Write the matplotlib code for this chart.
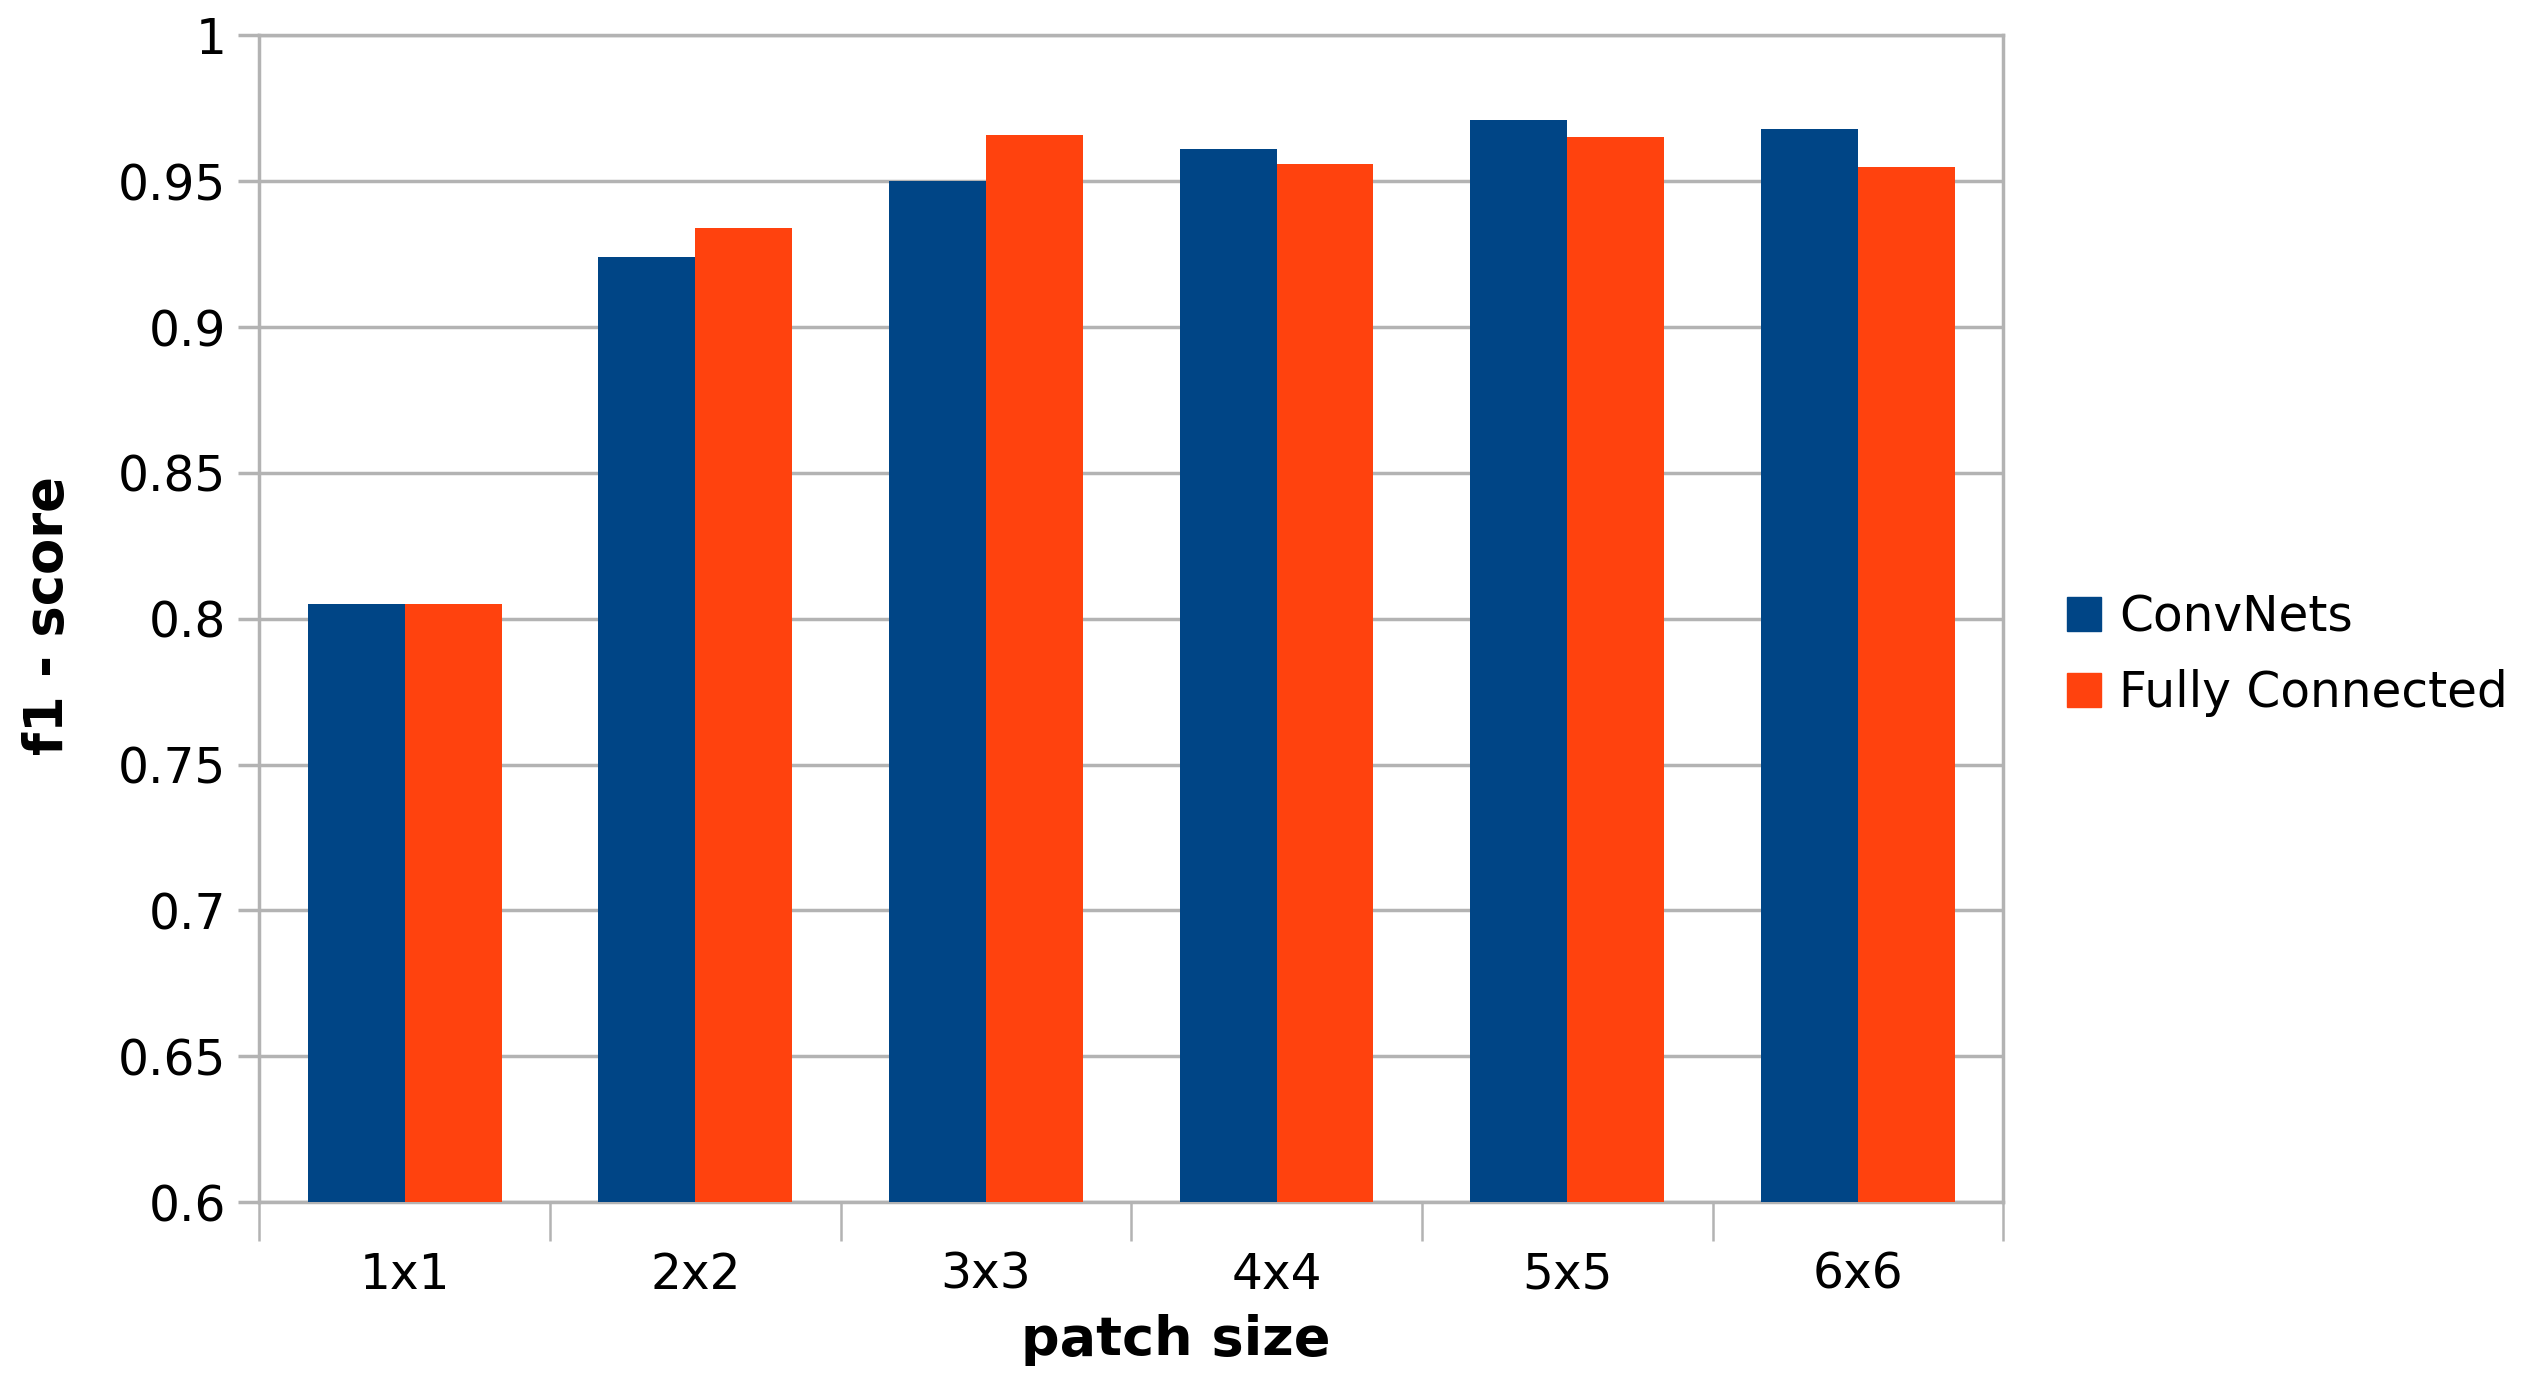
import matplotlib.pyplot as plt
from matplotlib.patches import Patch
import numpy as np

# f1-scores
patch_sizes = ['1x1', '2x2', '3x3', '4x4', '5x5', '6x6']
convnets = [0.805, 0.924, 0.950, 0.961, 0.971, 0.968]
fully_connected = [0.805, 0.934, 0.966, 0.956, 0.965, 0.955]

blue = '#004586'
orange = '#ff420e'
grid_gray = '#b3b3b3'

fig = plt.figure(figsize=(25.26, 13.89), dpi=100)
ax = fig.add_axes([0.1027, 0.1346, 0.6903, 0.8399])

x = np.arange(len(patch_sizes))
w = 1 / 3
ax.bar(x - w / 2, convnets, w, color=blue, zorder=3)
ax.bar(x + w / 2, fully_connected, w, color=orange, zorder=3)

ax.set_xlim(-0.5, len(patch_sizes) - 0.5)
ax.set_ylim(0.6, 1.0)

# y axis
yt = np.arange(0.6, 1.0001, 0.05)
ax.set_yticks(yt)
ax.set_yticklabels(['%g' % round(v, 2) for v in yt])
ax.yaxis.grid(True, color=grid_gray, linewidth=2.5, zorder=0)
ax.tick_params(axis='y', length=15, width=2.5, color=grid_gray, pad=9,
               labelsize=35)

# x axis: tick marks at the category boundaries, labels at the centres
ax.set_xticks(np.arange(-0.5, len(patch_sizes), 1.0))
ax.set_xticklabels([])
ax.tick_params(axis='x', which='major', length=28, width=1.8, color=grid_gray)
ax.set_xticks(x, minor=True)
ax.set_xticklabels(patch_sizes, minor=True)
ax.tick_params(axis='x', which='minor', length=0, pad=35, labelsize=35)

for side in ['left', 'right', 'top', 'bottom']:
    ax.spines[side].set_color(grid_gray)
    ax.spines[side].set_linewidth(2.5)
ax.set_axisbelow(True)

fig.text(0.4656, 0.035, 'patch size', fontsize=39, fontweight='bold',
         ha='center', va='center')
fig.text(0.019, 0.557, 'f1 - score', fontsize=38, fontweight='bold',
         rotation=90, ha='center', va='center')

handles = [Patch(color=blue), Patch(color=orange)]
fig.legend(handles, ['ConvNets', 'Fully Connected'], loc='center left',
           bbox_to_anchor=(2067 / 2526, 1 - 655 / 1389), frameon=False,
           fontsize=35, handlelength=0.7, handleheight=0.7,
           handletextpad=0.37, labelspacing=0.56, borderpad=0,
           borderaxespad=0)

plt.savefig('out.png', dpi=100)
